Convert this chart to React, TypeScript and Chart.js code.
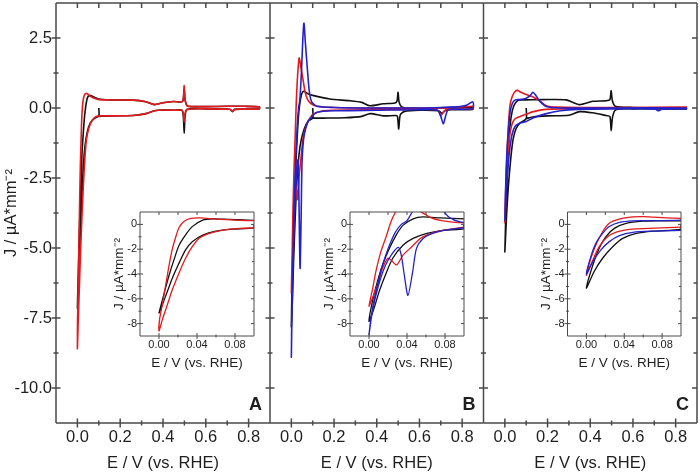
import React, { useEffect, useRef } from "react";
import { Chart, registerables } from "chart.js";
Chart.register(...registerables);

const W = 700;
const H = 474;
const FONT = "'Liberation Sans', Arial, Helvetica, sans-serif";
const TXT = "#1e1e1e";
const AXIS = "#4a4a4a";
const BLACK = "#111111";
const RED = "#e41a1c";
const BLUE = "#2222cc";

// ---- tick values ----
const mainXMajor = [0, 0.2, 0.4, 0.6, 0.8];
const mainXMinor = [0.1, 0.3, 0.5, 0.7];
const mainYMajor = [2.5, 0, -2.5, -5, -7.5, -10];
const mainYMinor = [1.25, -1.25, -3.75, -6.25, -8.75];
const insetXMajor = [0, 0.04, 0.08];
const insetXMinor = [0.02, 0.06];
const insetYMajor = [0, -2, -4, -6, -8];
const insetYMinor = [-1, -3, -5, -7];

const xTitle = "E / V (vs. RHE)";
const yTitle = "J / µA*mm⁻²";

// ---- curves: [E (V), J (µA/mm²)] ----
const aBlack: [number, number][] = [
  [0.1, 0.0], [0.1, -0.28], [0.078, -0.38], [0.06, -0.54], [0.046, -0.86], [0.035, -1.4], [0.028, -2.06], [0.021, -3.13], [0.014, -4.34], [0.0088, -5.41], [0.0035, -6.48], [0, -7.15],
  [0.0035, -6.1], [0.007, -5.1], [0.0106, -4.1], [0.016, -2.8], [0.021, -1.7], [0.028, -0.84], [0.035, -0.18], [0.046, 0.35], [0.057, 0.45], [0.074, 0.4], [0.1, 0.32], [0.15, 0.29], [0.26, 0.28], [0.32, 0.22], [0.36, 0.12], [0.4, 0.19], [0.45, 0.23], [0.488, 0.22], [0.495, 0.3], [0.499, 0.7], [0.503, 0.3], [0.512, 0.08], [0.53, 0.05], [0.6, 0.05], [0.7, 0.06], [0.78, 0.06], [0.85, 0.04],
  [0.85, -0.03], [0.78, -0.04], [0.735, -0.05], [0.725, -0.13], [0.715, -0.05], [0.7, -0.04], [0.6, -0.03], [0.512, -0.05], [0.503, -0.3], [0.499, -0.9], [0.495, -0.3], [0.488, -0.08], [0.45, -0.08], [0.4, -0.07], [0.36, -0.1], [0.32, -0.2], [0.26, -0.27], [0.15, -0.28], [0.1, -0.3],
];
const aRed: [number, number][] = [
  [0.1, -0.28], [0.085, -0.32], [0.067, -0.46], [0.053, -0.73], [0.042, -1.13], [0.035, -1.8], [0.028, -2.73], [0.021, -3.93], [0.014, -5.27], [0.0088, -6.48], [0.0035, -7.68], [0, -8.6],
  [0.0007, -7.6], [0.0035, -6.5], [0.007, -4.9], [0.0106, -3.3], [0.014, -2.0], [0.0177, -1.0], [0.021, -0.27], [0.0265, 0.26], [0.0336, 0.48], [0.044, 0.52], [0.06, 0.42], [0.085, 0.33], [0.1, 0.3], [0.15, 0.29], [0.26, 0.28], [0.32, 0.22], [0.36, 0.12], [0.4, 0.19], [0.45, 0.23], [0.488, 0.22], [0.495, 0.35], [0.499, 0.8], [0.503, 0.3], [0.512, 0.08], [0.53, 0.05], [0.6, 0.05], [0.7, 0.06], [0.78, 0.06], [0.85, 0.04],
  [0.85, -0.03], [0.78, -0.04], [0.735, -0.05], [0.725, -0.12], [0.715, -0.05], [0.7, -0.04], [0.6, -0.03], [0.512, -0.05], [0.503, -0.2], [0.499, -0.5], [0.495, -0.2], [0.488, -0.08], [0.45, -0.08], [0.4, -0.07], [0.36, -0.1], [0.32, -0.2], [0.26, -0.27], [0.15, -0.28], [0.1, -0.28],
];
const bBlack: [number, number][] = [
  [0.1, 0.0], [0.1, -0.36], [0.079, -0.46], [0.061, -0.73], [0.0465, -1.13], [0.036, -1.66], [0.025, -2.73], [0.018, -3.93], [0.0107, -5.41], [0.0054, -6.75], [0, -7.82],
  [0.0036, -6.2], [0.0089, -4.6], [0.0143, -3.27], [0.0215, -1.93], [0.0286, -0.86], [0.036, -0.06], [0.0465, 0.45], [0.057, 0.6], [0.075, 0.52], [0.1, 0.45], [0.18, 0.32], [0.275, 0.26], [0.33, 0.2], [0.368, 0.08], [0.43, 0.15], [0.485, 0.18], [0.495, 0.25], [0.5, 0.56], [0.505, 0.2], [0.52, 0.03], [0.587, -0.02], [0.68, 0.0], [0.75, 0.0], [0.85, 0.03],
  [0.85, -0.05], [0.75, -0.06], [0.72, -0.1], [0.705, -0.19], [0.69, -0.1], [0.6, -0.08], [0.53, -0.12], [0.51, -0.25], [0.503, -0.75], [0.497, -0.3], [0.49, -0.27], [0.43, -0.28], [0.37, -0.2], [0.33, -0.3], [0.25, -0.35], [0.15, -0.36], [0.1, -0.36],
];
const bRed: [number, number][] = [
  [0.1, -0.22], [0.086, -0.38], [0.0715, -0.59], [0.061, -0.86], [0.054, -1.13], [0.045, -1.8], [0.036, -2.46], [0.029, -3.27], [0.0232, -2.87], [0.0197, -2.73], [0.0143, -3.54], [0.0089, -4.87], [0.0036, -5.94], [0, -6.6],
  [0.0036, -5.27], [0.0072, -3.8], [0.0125, -2.2], [0.018, -1.0], [0.023, 0.2], [0.028, 1.0], [0.033, 1.55], [0.037, 1.79], [0.044, 1.5], [0.056, 0.95], [0.065, 0.55], [0.075, 0.32], [0.09, 0.17], [0.12, 0.06], [0.2, 0.02], [0.4, 0.0], [0.6, 0.0], [0.7, 0.0], [0.8, 0.03], [0.85, 0.06],
  [0.85, -0.03], [0.73, -0.04], [0.715, -0.12], [0.7, -0.28], [0.69, -0.12], [0.67, -0.05], [0.5, -0.05], [0.3, -0.07], [0.15, -0.1], [0.1, -0.22],
];
const bBlue: [number, number][] = [
  [0.1, -0.27], [0.08, -0.46], [0.067, -0.73], [0.057, -1.13], [0.05, -1.93], [0.046, -3.8], [0.041, -5.73], [0.037, -4.0], [0.034, -2.5], [0.031, -1.85], [0.025, -2.3], [0.018, -3.2], [0.012, -4.4], [0.007, -5.8], [0.003, -7.3], [0, -8.9],
  [0.002, -7.6], [0.005, -6.2], [0.009, -4.9], [0.013, -3.6], [0.018, -2.4], [0.023, -1.4], [0.028, -0.6], [0.034, 0.0], [0.04, 0.3], [0.048, 1.4], [0.054, 2.5], [0.059, 3.03], [0.066, 2.3], [0.075, 1.4], [0.084, 0.6], [0.095, 0.22], [0.12, 0.06], [0.2, 0.02], [0.4, 0.0], [0.6, 0.0], [0.7, 0.02], [0.79, 0.05], [0.82, 0.1], [0.85, 0.22],
  [0.85, -0.02], [0.78, -0.04], [0.735, -0.06], [0.722, -0.3], [0.712, -0.57], [0.7, -0.3], [0.685, -0.08], [0.6, -0.06], [0.4, -0.08], [0.2, -0.1], [0.12, -0.15], [0.1, -0.27],
];
const cBlack: [number, number][] = [
  [0.1, 0.0], [0.1, -0.38], [0.0704, -0.54], [0.0527, -0.73], [0.0384, -1.13], [0.0278, -1.8], [0.0171, -2.73], [0.0082, -3.8], [0, -5.14],
  [0.0068, -3.27], [0.0135, -1.93], [0.0206, -0.99], [0.0295, -0.32], [0.042, 0.08], [0.0597, 0.26], [0.0775, 0.29], [0.1, 0.29], [0.178, 0.3], [0.287, 0.29], [0.35, 0.12], [0.412, 0.24], [0.475, 0.26], [0.492, 0.3], [0.498, 0.62], [0.504, 0.25], [0.52, 0.05], [0.6, 0.02], [0.7, 0.01], [0.85, 0.0],
  [0.85, -0.03], [0.6, -0.03], [0.52, -0.06], [0.505, -0.3], [0.498, -0.81], [0.492, -0.3], [0.475, -0.27], [0.41, -0.17], [0.35, -0.13], [0.3, -0.26], [0.2, -0.28], [0.13, -0.32], [0.1, -0.38],
];
const cRed: [number, number][] = [
  [0.1, -0.22], [0.072, -0.3], [0.0455, -0.4], [0.0331, -0.59], [0.0224, -0.99], [0.0135, -1.8], [0.0068, -2.87], [0, -4.1],
  [0.0047, -2.73], [0.01, -1.66], [0.0171, -0.59], [0.0238, 0.08], [0.0349, 0.42], [0.049, 0.6], [0.06, 0.63], [0.0704, 0.58], [0.1, 0.48], [0.13, 0.4], [0.162, 0.26], [0.194, 0.08], [0.24, 0.03], [0.4, 0.02], [0.6, 0.02], [0.85, 0.03],
  [0.85, 0.0], [0.6, 0.0], [0.4, -0.02], [0.28, -0.03], [0.19, -0.05], [0.134, -0.13], [0.1, -0.22],
];
const cBlue: [number, number][] = [
  [0.1, -0.48], [0.0704, -0.54], [0.0491, -0.64], [0.0349, -0.91], [0.0242, -1.39], [0.0153, -2.06], [0.0068, -3.0], [0, -4.0],
  [0.0047, -2.6], [0.01, -1.53], [0.0171, -0.73], [0.0238, -0.19], [0.0349, 0.16], [0.049, 0.29], [0.0704, 0.3], [0.1, 0.35], [0.12, 0.45], [0.131, 0.56], [0.145, 0.45], [0.162, 0.26], [0.194, 0.05], [0.26, 0.0], [0.5, 0.0], [0.85, 0.0],
  [0.85, -0.03], [0.735, -0.04], [0.72, -0.1], [0.705, -0.04], [0.5, -0.03], [0.34, -0.05], [0.26, -0.1], [0.19, -0.21], [0.134, -0.35], [0.1, -0.48],
];

type Curve = { pts: [number, number][]; color: string };
type Box = { l: number; t: number; r: number; b: number };
type Spec = {
  key: string;
  box: Box;
  inset: boolean;
  xMin: number; xMax: number; yMin: number; yMax: number;
  xMajor: number[]; xMinor: number[]; yMajor: number[]; yMinor: number[];
  xFmt: (v: number) => string; yFmt: (v: number) => string;
  yLabels: boolean;
  yW: number; xH: number;
  tickFont: number; titleFont: number;
  xTickPad: number; yTickPad: number; xTitlePadB: number; yTitlePadT: number;
  rightBorder: boolean;
  letter?: string;
  curves: Curve[];
};

const mainBase = {
  inset: false,
  xMin: -0.1, xMax: 0.9, yMin: -11.25, yMax: 3.75,
  xMajor: mainXMajor, xMinor: mainXMinor, yMajor: mainYMajor, yMinor: mainYMinor,
  xFmt: (v: number) => v.toFixed(1), yFmt: (v: number) => v.toFixed(1),
  xH: 51, tickFont: 16.5, titleFont: 16.5,
  xTickPad: 5, yTickPad: 4, xTitlePadB: 1, yTitlePadT: 2,
};
const insetBase = {
  inset: true,
  xMin: -0.02, xMax: 0.1, yMin: -9, yMax: 1,
  xMajor: insetXMajor, xMinor: insetXMinor, yMajor: insetYMajor, yMinor: insetYMinor,
  xFmt: (v: number) => v.toFixed(2), yFmt: (v: number) => String(Math.round(v)),
  yLabels: true, yW: 31, xH: 36, tickFont: 11, titleFont: 13.5,
  xTickPad: 2, yTickPad: 3, xTitlePadB: 1, yTitlePadT: 2,
  rightBorder: true,
};

const curvesA: Curve[] = [{ pts: aRed, color: RED }, { pts: aBlack, color: BLACK }];
const curvesB: Curve[] = [{ pts: bBlue, color: BLUE }, { pts: bRed, color: RED }, { pts: bBlack, color: BLACK }];
const curvesC: Curve[] = [{ pts: cBlue, color: BLUE }, { pts: cRed, color: RED }, { pts: cBlack, color: BLACK }];

const specs: Spec[] = [
  { ...mainBase, key: "mA", box: { l: 56, t: 3, r: 270, b: 423 }, yLabels: true, yW: 56, rightBorder: false, letter: "A", curves: curvesA },
  { ...mainBase, key: "mB", box: { l: 270, t: 3, r: 483.5, b: 423 }, yLabels: false, yW: 0, rightBorder: false, letter: "B", curves: curvesB },
  { ...mainBase, key: "mC", box: { l: 483.5, t: 3, r: 697, b: 423 }, yLabels: false, yW: 0, rightBorder: true, letter: "C", curves: curvesC },
  { ...insetBase, key: "iA", box: { l: 140, t: 212, r: 254, b: 336 }, curves: curvesA },
  { ...insetBase, key: "iB", box: { l: 350, t: 212, r: 464, b: 336 }, curves: curvesB },
  { ...insetBase, key: "iC", box: { l: 567.5, t: 212, r: 681, b: 336 }, curves: curvesC },
];

function zeroPad(sc: any) {
  sc.paddingTop = 0;
  sc.paddingBottom = 0;
  sc.paddingLeft = 0;
  sc.paddingRight = 0;
}

function buildChart(canvas: HTMLCanvasElement, s: Spec) {
  const pad = { left: s.box.l - s.yW, top: s.box.t, right: W - s.box.r, bottom: H - s.box.b - s.xH };
  const t = s.inset
    ? { majOut: 3, majIn: 3, minOut: 1.5, minIn: 1.5, top: 3, right: 3, lw: 1 }
    : { majOut: 4.5, majIn: 4.5, minOut: 2.5, minIn: 2.5, top: 5, right: 5, lw: 1.5 };
  const framePlugin = {
    id: "frame_" + s.key,
    beforeDraw(chart: any) {
      if (!s.inset) return;
      const a = chart.chartArea;
      const ctx = chart.ctx;
      ctx.save();
      ctx.fillStyle = "#ffffff";
      ctx.fillRect(a.left, a.top, a.right - a.left, a.bottom - a.top);
      ctx.restore();
    },
    afterDraw(chart: any) {
      const a = chart.chartArea;
      const ctx = chart.ctx;
      const xs = chart.scales.x;
      const ys = chart.scales.y;
      ctx.save();
      ctx.strokeStyle = AXIS;
      ctx.lineWidth = t.lw;
      ctx.lineCap = "butt";
      ctx.beginPath();
      ctx.moveTo(a.left, a.top);
      ctx.lineTo(a.left, a.bottom);
      ctx.moveTo(a.left, a.bottom);
      ctx.lineTo(a.right, a.bottom);
      ctx.moveTo(a.left, a.top);
      ctx.lineTo(a.right, a.top);
      if (s.rightBorder) {
        ctx.moveTo(a.right, a.top);
        ctx.lineTo(a.right, a.bottom);
      }
      const seg = (x1: number, y1: number, x2: number, y2: number) => {
        ctx.moveTo(x1, y1);
        ctx.lineTo(x2, y2);
      };
      s.xMajor.forEach((v) => {
        const px = xs.getPixelForValue(v);
        seg(px, a.bottom - t.majIn, px, a.bottom + t.majOut);
        seg(px, a.top, px, a.top + t.top);
      });
      s.xMinor.forEach((v) => {
        const px = xs.getPixelForValue(v);
        seg(px, a.bottom - t.minIn, px, a.bottom + t.minOut);
        seg(px, a.top, px, a.top + t.top);
      });
      s.yMajor.forEach((v) => {
        const py = ys.getPixelForValue(v);
        seg(a.left - t.majOut, py, a.left + t.majIn, py);
        if (s.rightBorder) seg(a.right - t.right, py, a.right, py);
      });
      s.yMinor.forEach((v) => {
        const py = ys.getPixelForValue(v);
        seg(a.left - t.minOut, py, a.left + t.minIn, py);
        if (s.rightBorder) seg(a.right - t.right * 0.7, py, a.right, py);
      });
      ctx.stroke();
      if (s.letter) {
        ctx.fillStyle = TXT;
        ctx.font = `bold 18px ${FONT}`;
        ctx.textAlign = "right";
        ctx.textBaseline = "alphabetic";
        ctx.fillText(s.letter, a.right - 8, 409.5);
      }
      ctx.restore();
    },
  };

  return new Chart(canvas, {
    type: "scatter",
    data: {
      datasets: s.curves.map((c) => ({
        data: c.pts.map(([x, y]) => ({ x, y })),
        showLine: true,
        borderColor: c.color,
        backgroundColor: c.color,
        borderWidth: s.inset ? 1.3 : 1.6,
        pointRadius: 0,
        pointHoverRadius: 0,
        tension: 0.25,
        fill: false,
      })),
    },
    options: {
      animation: false,
      responsive: false,
      maintainAspectRatio: false,
      events: [],
      layout: { autoPadding: false, padding: pad },
      plugins: { legend: { display: false }, tooltip: { enabled: false }, title: { display: false } },
      scales: {
        x: {
          type: "linear",
          position: "bottom",
          min: s.xMin,
          max: s.xMax,
          afterBuildTicks: (sc: any) => {
            sc.ticks = s.xMajor.map((v) => ({ value: v }));
          },
          afterFit: (sc: any) => {
            sc.height = s.xH;
            zeroPad(sc);
          },
          grid: { display: false, drawTicks: false },
          border: { display: false },
          ticks: {
            font: { family: FONT, size: s.tickFont },
            color: TXT,
            padding: s.xTickPad,
            maxRotation: 0,
            minRotation: 0,
            autoSkip: false,
            callback: (v: any) => s.xFmt(Number(v)),
          },
          title: {
            display: true,
            text: xTitle,
            font: { family: FONT, size: s.titleFont },
            color: TXT,
            padding: { top: 0, bottom: s.xTitlePadB },
          },
        },
        y: {
          type: "linear",
          position: "left",
          min: s.yMin,
          max: s.yMax,
          afterBuildTicks: (sc: any) => {
            sc.ticks = s.yMajor.map((v) => ({ value: v }));
          },
          afterFit: (sc: any) => {
            sc.width = s.yW;
            zeroPad(sc);
          },
          grid: { display: false, drawTicks: false },
          border: { display: false },
          ticks: {
            display: s.yLabels,
            font: { family: FONT, size: s.tickFont },
            color: TXT,
            padding: s.yTickPad,
            autoSkip: false,
            callback: (v: any) => s.yFmt(Number(v)),
          },
          title: {
            display: s.yLabels,
            text: yTitle,
            font: { family: FONT, size: s.titleFont },
            color: TXT,
            padding: { top: s.yTitlePadT, bottom: 0 },
          },
        },
      },
    } as any,
    plugins: [framePlugin],
  } as any);
}

function ChartLayer({ spec }: { spec: Spec }) {
  const ref = useRef<HTMLCanvasElement | null>(null);
  useEffect(() => {
    if (!ref.current) return;
    const chart = buildChart(ref.current, spec);
    return () => chart.destroy();
  }, [spec]);
  return (
    <canvas
      ref={ref}
      width={W}
      height={H}
      style={{ position: "absolute", left: 0, top: 0, width: W, height: H }}
    />
  );
}

export default function App() {
  return (
    <div
      style={{
        position: "absolute",
        left: 0,
        top: 0,
        width: W,
        height: H,
        background: "#ffffff",
        overflow: "hidden",
      }}
    >
      {specs.map((s) => (
        <ChartLayer key={s.key} spec={s} />
      ))}
    </div>
  );
}
